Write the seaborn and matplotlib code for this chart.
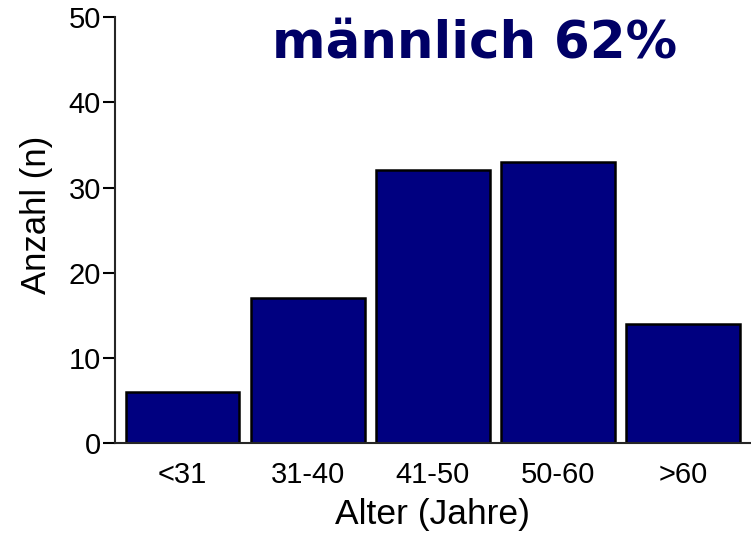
import matplotlib
matplotlib.use("Agg")
import matplotlib.pyplot as plt
import seaborn as sns
import pandas as pd

# Altersgruppen und Anzahl
altersgruppen = ["<31", "31-40", "41-50", "50-60", ">60"]
anzahl = [6, 17, 32, 33, 14]
titel = "männlich 62%"

df = pd.DataFrame({"Alter": altersgruppen, "Anzahl": anzahl})

sns.set_style("ticks")
plt.rcParams["font.family"] = ["Liberation Sans", "DejaVu Sans"]
plt.rcParams["text.color"] = "black"
plt.rcParams["axes.labelcolor"] = "black"
plt.rcParams["xtick.color"] = "black"
plt.rcParams["ytick.color"] = "black"

fig = plt.figure(figsize=(7.51, 5.34), dpi=100)
ax = fig.add_axes([0.153, 0.170, 0.847, 0.798])

sns.barplot(data=df, x="Alter", y="Anzahl", color="#000080", saturation=1,
            width=0.91, edgecolor="black", linewidth=1.8, ax=ax)

ax.set_xlim(-0.54, 4.54)
ax.set_ylim(0, 50)
ax.set_yticks([0, 10, 20, 30, 40, 50])
ax.tick_params(axis="y", direction="out", length=9, width=1.5, labelsize=21, pad=1)
ax.tick_params(axis="x", length=0, labelsize=21, pad=13)
sns.despine(ax=ax)
ax.spines["left"].set_linewidth(1.5)
ax.spines["bottom"].set_linewidth(1.5)

ax.set_xlabel("Alter (Jahre)", fontsize=25.5, labelpad=6)
ax.set_ylabel("Anzahl (n)", fontsize=25)
ax.yaxis.set_label_coords(-0.097, 0.535)

ax.text(0.566, 0.905, titel, transform=ax.transAxes,
        fontsize=37, fontweight="bold", color="#000066", ha="center", va="baseline",
        family=["DejaVu Sans"])

fig.savefig("out.png", dpi=100)
